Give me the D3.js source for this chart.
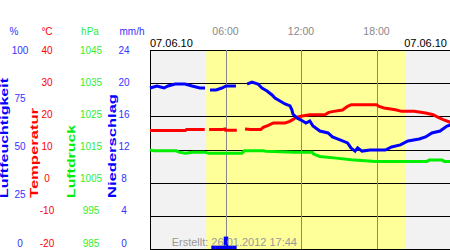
<!DOCTYPE html>
<html>
<head>
<meta charset="utf-8">
<script src="https://cdn.jsdelivr.net/npm/d3@7"></script>
<style>
  body { margin: 0; background: #fff; }
  svg { display: block; font-family: "Liberation Sans", Arial, sans-serif; }
</style>
</head>
<body>
<svg width="450" height="250"></svg>
<script>
// Werte (Stunde, Wert), null = Lücke
const humidity = [
  [0, 80.9], [0.56, 81.9], [1.11, 80.9], [1.43, 81.9], [2.0, 82.9], [2.78, 82.9], [3.34, 81.9],
  [3.97, 80.9], [4.37, 80.9], [4.5, null], [4.77, 79.9], [5.25, 79.9], [5.72, 80.9], [6.04, 81.9],
  [6.83, 81.9], [7.2, null], [7.71, 82.9], [8.1, 83.9], [8.58, 82.9], [8.9, 80.9], [9.3, 79.4],
  [9.7, 77.4], [9.93, 75.9], [10.33, 74.4], [10.73, 72.9], [11.13, 71.9], [11.28, 69.8],
  [11.36, 67.8], [11.68, 65.8], [12.0, 64.8], [12.4, 63.3], [12.7, 64.3], [12.95, 61.8],
  [13.5, 59.3], [14.15, 58.3], [14.5, 56.3], [15.1, 54.8], [15.7, 53.3], [15.97, 50.8],
  [16.3, 49.2], [16.5, 50.8], [16.85, 49.2], [17.5, 49.7], [18.7, 49.7], [19.2, 51.3],
  [19.9, 52.3], [20.5, 54.3], [21.4, 55.3], [21.9, 56.3], [22.4, 58.3], [23.05, 59.3],
  [23.6, 61.8], [24, 62.5]
];
const temperature = [
  [0, 15.7], [2.8, 15.7], [2.9, 16.0], [4.35, 16.0], [4.5, null], [4.7, 16.0], [5.7, 16.0],
  [5.95, 16.2], [6.0, 15.8], [6.9, 15.8], [7.2, null], [7.55, 16.2], [8.0, 16.0], [8.8, 16.0],
  [9.0, 16.7], [9.4, 17.3], [9.8, 18.0], [10.75, 18.0], [11.1, 18.5], [11.35, 19.0],
  [11.6, 19.7], [12.0, 20.0], [12.7, 20.5], [13.9, 20.5], [14.2, 21.2], [14.6, 21.5],
  [15.3, 21.9], [15.7, 23.0], [16.0, 23.5], [18.0, 23.5], [18.2, 23.0], [18.6, 22.5],
  [19.5, 22.0], [20.0, 21.5], [21.0, 21.5], [21.9, 21.0], [22.5, 20.5], [22.9, 19.7],
  [23.3, 19.0], [23.8, 18.3], [24, 18.0]
];
const pressure = [
  [0, 1014.9], [0.3, 1014.6], [2.1, 1014.6], [2.3, 1014.2], [2.8, 1013.9], [3.4, 1014.2],
  [4.3, 1014.2], [4.7, 1013.9], [7.3, 1013.9], [7.5, 1014.6], [9.0, 1014.6], [9.2, 1014.5],
  [11.5, 1014.2], [12.9, 1014.2], [13.0, 1013.6], [13.5, 1012.9], [14.8, 1012.4],
  [16.0, 1011.9], [17.9, 1011.4], [22.0, 1011.4], [22.2, 1011.8], [23.2, 1011.8],
  [23.4, 1011.4], [24, 1011.4]
];
// Niederschlag: Beginn des Intervalls (h), mm/h
const precipitation = [[4.87, 0.4], [5.2, 0.4], [5.53, 0.4], [5.86, 1.5], [6.2, 0.4], [6.53, 0.4]];
const precipWidth = 1 / 3;

const humidityTicks = [0, 25, 50, 75, 100];
const tempTicks = [-20, -10, 0, 10, 20, 30, 40];
const pressureTicks = [985, 995, 1005, 1015, 1025, 1035, 1045];
const precipTicks = [0, 4, 8, 12, 16, 20, 24];
const hourTicks = [6, 12, 18];
const hourLabels = ["06:00", "12:00", "18:00"];
const daylight = [4.47, 20.3];

const svg = d3.select("svg");
const plotTop = 50, plotBottom = 249, plotLeft = 150;

// Skalen
const x = d3.scaleLinear().domain([0, 24]).range([plotLeft, 452]);
const yHum = d3.scaleLinear().domain([0, 100]).range([plotBottom, plotTop]);
const yTemp = d3.scaleLinear().domain([-20, 40]).range([plotBottom, plotTop]);
const yPres = d3.scaleLinear().domain([985, 1045]).range([plotBottom, plotTop]);
const yRain = d3.scaleLinear().domain([0, 24]).range([plotBottom, plotTop]);
// Beschriftungen links liegen etwas gestaucht
const labHum = d3.scaleLinear().domain([0, 100]).range([243, 50]);
const labTemp = d3.scaleLinear().domain([-20, 40]).range([243, 50]);
const labPres = d3.scaleLinear().domain([985, 1045]).range([243, 50]);
const labRain = d3.scaleLinear().domain([0, 24]).range([243, 50]);

// Hintergrund Nacht / Tag
svg.append("rect").attr("x", x(0)).attr("y", plotTop).attr("width", x(24) - x(0)).attr("height", plotBottom - plotTop).attr("fill", "#f2f2f2");
svg.append("rect").attr("x", x(daylight[0])).attr("y", plotTop).attr("width", x(daylight[1]) - x(daylight[0])).attr("height", plotBottom - plotTop).attr("fill", "#ffff99");

// horizontale Linien
tempTicks.forEach(t => {
  svg.append("line").attr("x1", plotLeft).attr("x2", 450)
    .attr("y1", Math.round(yTemp(t)) + 0.5).attr("y2", Math.round(yTemp(t)) + 0.5)
    .attr("stroke", "#000").attr("stroke-width", 1);
});
// vertikale Linien
hourTicks.forEach((h, i) => {
  svg.append("line").attr("x1", Math.round(x(h)) + 0.5).attr("x2", Math.round(x(h)) + 0.5)
    .attr("y1", plotTop).attr("y2", plotBottom).attr("stroke", "#888").attr("stroke-width", 1);
  svg.append("text").attr("x", x(h)).attr("y", 35).attr("text-anchor", "middle")
    .attr("font-size", "10.5px").attr("fill", "#888").text(hourLabels[i]);
});
svg.append("line").attr("x1", plotLeft + 0.5).attr("x2", plotLeft + 0.5).attr("y1", plotTop).attr("y2", plotBottom + 1).attr("stroke", "#000");

// Niederschlag
svg.selectAll(".rain").data(precipitation).enter().append("rect")
  .attr("x", d => x(d[0])).attr("width", x(precipWidth) - x(0) + 0.3)
  .attr("y", d => yRain(d[1])).attr("height", d => plotBottom - yRain(d[1]))
  .attr("fill", "#0000ff");

// Linien
function drawLine(data, yScale, color) {
  const line = d3.line().defined(d => d[1] !== null).x(d => x(d[0])).y(d => yScale(d[1]));
  svg.append("path").datum(data).attr("d", line).attr("fill", "none")
    .attr("stroke", color).attr("stroke-width", 3);
}
drawLine(pressure, yPres, "#00ee00");
drawLine(temperature, yTemp, "#ff0000");
drawLine(humidity, yHum, "#0000ff");

// Einheiten
const units = [["%", 14, "#3333ff"], ["°C", 47, "#ff0000"], ["hPa", 90, "#33ee33"], ["mm/h", 132, "#3333ff"]];
units.forEach(u => {
  svg.append("text").attr("x", u[1]).attr("y", 35).attr("text-anchor", "middle")
    .attr("font-size", "10px").attr("fill", u[2]).text(u[0]);
});

// Achsenbeschriftungen
function tickLabels(ticks, scale, xPos, color) {
  svg.selectAll(null).data(ticks).enter().append("text")
    .attr("x", xPos).attr("y", d => scale(d)).attr("dy", "0.35em")
    .attr("text-anchor", "middle").attr("font-size", "10px").attr("fill", color)
    .text(d => d);
}
tickLabels(humidityTicks, labHum, 20, "#3333ff");
tickLabels(tempTicks, labTemp, 47, "#ff0000");
tickLabels(pressureTicks, labPres, 91, "#33ee33");
tickLabels(precipTicks, labRain, 124, "#3333ff");

// senkrechte Titel
const titles = [["Luftfeuchtigkeit", 8, 120, "#0000ff"], ["Temperatur", 38, 90, "#ff0000"],
                ["Luftdruck", 75, 73, "#00ee00"], ["Niederschlag", 116, 104, "#0000ff"]];
titles.forEach(t => {
  svg.append("text").attr("transform", `translate(${t[1]},198) rotate(-90)`)
    .attr("font-size", "10px").attr("font-weight", "bold").attr("fill", t[3])
    .attr("textLength", t[2]).attr("lengthAdjust", "spacingAndGlyphs").text(t[0]);
});

// Datum
svg.append("text").attr("x", 150).attr("y", 47).attr("font-size", "11px").attr("fill", "#000").text("07.06.10");
svg.append("text").attr("x", 447).attr("y", 47).attr("text-anchor", "end").attr("font-size", "11px").attr("fill", "#000").text("07.06.10");

// Erstellt
svg.append("text").attr("x", 297).attr("y", 246).attr("text-anchor", "end")
  .attr("font-size", "11px").attr("fill", "#999").text("Erstellt: 26.01.2012 17:44");
</script>
</body>
</html>
